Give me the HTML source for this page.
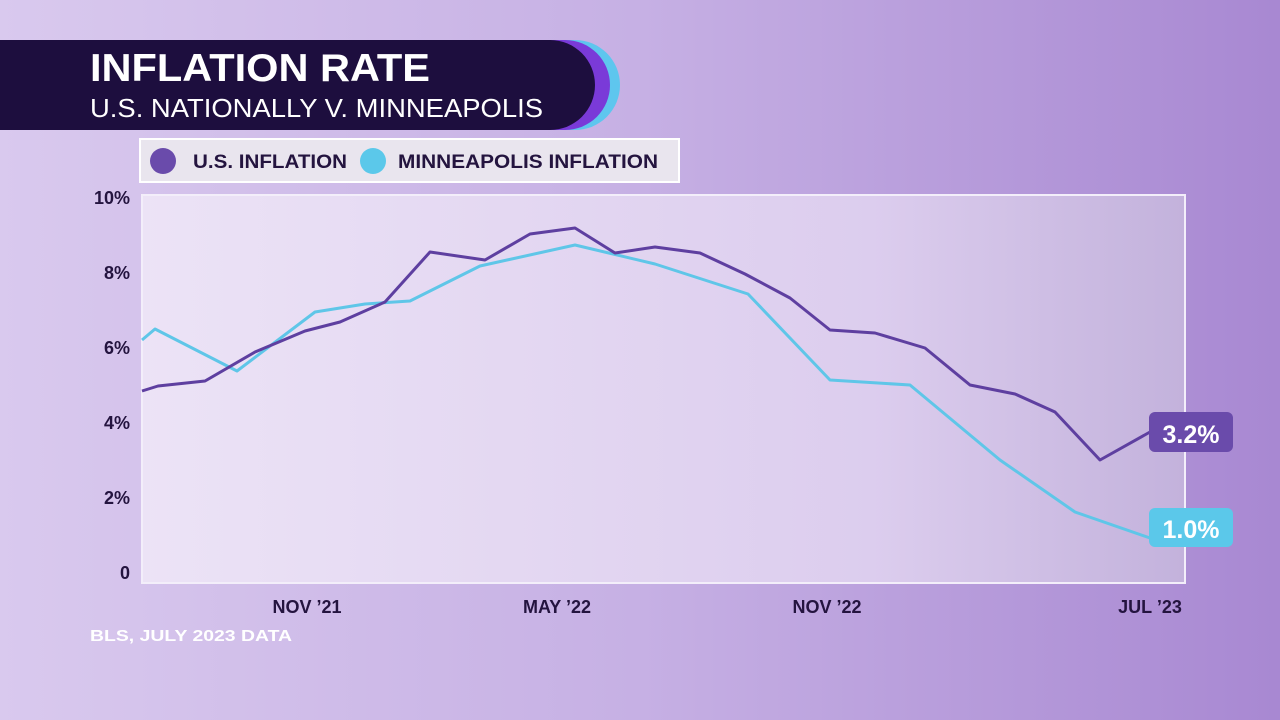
<!DOCTYPE html>
<html><head><style>
body{margin:0;width:1280px;height:720px;overflow:hidden;font-family:"Liberation Sans",sans-serif;}
</style></head><body>
<svg width="1280" height="720" xmlns="http://www.w3.org/2000/svg" style="display:block">
<defs>
<linearGradient id="bg" x1="0" x2="1" y1="0" y2="0">
<stop offset="0" stop-color="#d9c9ee"/><stop offset="0.5" stop-color="#c6b0e4"/><stop offset="1" stop-color="#a888d2"/>
</linearGradient>
<linearGradient id="pl" x1="0" x2="1" y1="0" y2="0">
<stop offset="0" stop-color="#ece3f6"/><stop offset="0.7" stop-color="#dccdee"/><stop offset="1" stop-color="#c3b2dc"/>
</linearGradient>
</defs>
<rect width="1280" height="720" fill="url(#bg)"/>
<path d="M0 40 H575 A45 45 0 0 1 575 130 H0Z" fill="#5ec6ee"/>
<path d="M0 40 H565 A45 45 0 0 1 565 130 H0Z" fill="#7a3ad8"/>
<path d="M0 40 H550 A45 45 0 0 1 550 130 H0Z" fill="#1d0e3e"/>
<text x="90" y="81" font-size="39" font-weight="bold" fill="#fff" textLength="340" lengthAdjust="spacingAndGlyphs">INFLATION RATE</text>
<text x="90" y="117" font-size="26" fill="#fff" textLength="453" lengthAdjust="spacingAndGlyphs">U.S. NATIONALLY V. MINNEAPOLIS</text>
<rect x="140" y="139" width="539" height="43" fill="#e9e5ee" stroke="#fff" stroke-width="2"/>
<circle cx="163" cy="161" r="13" fill="#6a4bab"/>
<text x="193" y="168" font-size="19" font-weight="bold" fill="#24143f" textLength="154" lengthAdjust="spacingAndGlyphs">U.S. INFLATION</text>
<circle cx="373" cy="161" r="13" fill="#5bc8ea"/>
<text x="398" y="168" font-size="19" font-weight="bold" fill="#24143f" textLength="260" lengthAdjust="spacingAndGlyphs">MINNEAPOLIS INFLATION</text>
<rect x="142" y="195" width="1043" height="388" fill="url(#pl)" stroke="#f3eefa" stroke-width="2"/>
<g font-size="18" font-weight="bold" fill="#24143f" text-anchor="end">
<text x="130" y="204">10%</text><text x="130" y="279">8%</text><text x="130" y="354">6%</text>
<text x="130" y="429">4%</text><text x="130" y="504">2%</text><text x="130" y="579">0</text>
</g>
<g font-size="18" font-weight="bold" fill="#24143f" text-anchor="middle">
<text x="307" y="613">NOV ’21</text><text x="557" y="613">MAY ’22</text>
<text x="827" y="613">NOV ’22</text><text x="1150" y="613">JUL ’23</text>
</g>
<text x="90" y="641" font-size="16" font-weight="bold" fill="#fff" textLength="202" lengthAdjust="spacingAndGlyphs">BLS, JULY 2023 DATA</text>
<polyline fill="none" stroke="#5fc6e8" stroke-width="3" stroke-linejoin="round" points="142,340 155,329 237,371 315,312 365,304 410,301 480,266 575,245 655,264 748,294 830,380 910,385 1000,460 1075,512 1150,538"/>
<polyline fill="none" stroke="#5e3fa0" stroke-width="3" stroke-linejoin="round" points="142,391 158,386 205,381 255,352 305,331 340,322 385,302 430,252 485,260 530,234 575,228 615,253 655,247 700,253 745,274 790,298 830,330 875,333 925,348 970,385 1015,394 1055,412 1100,460 1150,432"/>
<rect x="1149" y="412" width="84" height="40" rx="6" fill="#6a4bab"/>
<text x="1191" y="443" font-size="25" font-weight="bold" fill="#fff" text-anchor="middle">3.2%</text>
<rect x="1149" y="508" width="84" height="39" rx="6" fill="#5bc8ea"/>
<text x="1191" y="538" font-size="25" font-weight="bold" fill="#fff" text-anchor="middle">1.0%</text>
</svg>
</body></html>
